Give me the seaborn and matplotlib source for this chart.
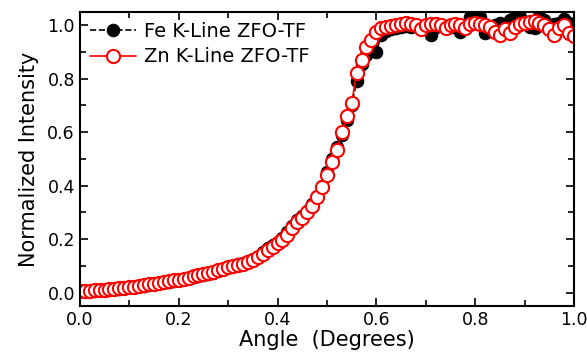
import numpy as np
import pandas as pd
import seaborn as sns
import matplotlib.pyplot as plt
from matplotlib.ticker import MultipleLocator

# angle grid (degrees)
angle = [round(i * 0.01, 2) for i in range(101)]

# Zn K-line, normalized intensity
zn = [0.005, 0.006, 0.007, 0.008, 0.009, 0.010, 0.012, 0.013, 0.015, 0.017,
      0.020, 0.022, 0.025, 0.027, 0.030, 0.033, 0.036, 0.039, 0.042, 0.045,
      0.048, 0.052, 0.056, 0.060, 0.064, 0.068, 0.073, 0.078, 0.083, 0.089,
      0.095, 0.099, 0.104, 0.108, 0.114, 0.122, 0.131, 0.144, 0.158, 0.171,
      0.185, 0.198, 0.216, 0.240, 0.265, 0.280, 0.300, 0.325, 0.356, 0.395,
      0.440, 0.490, 0.535, 0.600, 0.660, 0.710, 0.820, 0.870, 0.920, 0.945,
      0.975, 0.990, 0.995, 0.998, 1.000, 1.005, 1.008, 1.004, 1.000, 0.985,
      1.002, 1.006, 1.003, 1.000, 0.990, 1.000, 1.004, 1.000, 0.990, 1.004,
      1.010, 1.005, 1.000, 0.995, 0.975, 0.963, 0.985, 0.970, 0.995, 1.003,
      1.008, 1.012, 1.015, 1.010, 1.000, 0.985, 0.963, 0.990, 1.000, 0.970,
      0.960]

# Fe K-line, normalized intensity
fe = [0.004, 0.005, 0.006, 0.007, 0.008, 0.010, 0.011, 0.013, 0.014, 0.016,
      0.019, 0.021, 0.024, 0.026, 0.029, 0.032, 0.035, 0.038, 0.041, 0.044,
      0.047, 0.051, 0.055, 0.059, 0.063, 0.067, 0.071, 0.072, 0.082, 0.088,
      0.096, 0.101, 0.105, 0.110, 0.117, 0.124, 0.134, 0.150, 0.168, 0.178,
      0.190, 0.205, 0.228, 0.250, 0.270, 0.288, 0.305, 0.330, 0.360, 0.400,
      0.450, 0.500, 0.545, 0.590, 0.645, 0.700, 0.790, 0.855, 0.890, 0.920,
      0.900, 0.965, 0.978, 0.985, 0.990, 0.995, 0.998, 0.995, 0.998, 0.995,
      0.995, 0.963, 0.995, 1.000, 0.990, 0.995, 1.000, 0.975, 1.000, 1.030,
      1.035, 1.030, 0.970, 0.995, 1.000, 1.010, 1.000, 1.020, 1.035, 1.030,
      1.010, 0.995, 0.990, 1.035, 1.020, 1.000, 1.005, 1.010, 1.025, 1.010,
      0.990]

df = pd.DataFrame({"angle": angle, "Fe": fe, "Zn": zn})

sns.set_style("ticks", {"axes.edgecolor": "black", "xtick.color": "black",
                        "ytick.color": "black", "text.color": "black",
                        "axes.labelcolor": "black"})
plt.rcParams["font.family"] = ["DejaVu Sans"]

fig = plt.figure(figsize=(5.87, 3.59), dpi=100)
ax = fig.add_axes([0.136, 0.148, 0.842, 0.819])

sns.lineplot(data=df, x="angle", y="Fe", ax=ax, color="black", linestyle="--",
             linewidth=1.2, marker="o", markersize=9, markerfacecolor="black",
             markeredgecolor="black", label="Fe K-Line ZFO-TF")
sns.lineplot(data=df, x="angle", y="Zn", ax=ax, color="red", linestyle="-",
             linewidth=1.2, marker="o", markersize=9.5, markerfacecolor="white",
             markeredgecolor="red", markeredgewidth=1.5, label="Zn K-Line ZFO-TF")

ax.set_xlim(0, 1.0)
ax.set_ylim(-0.05, 1.05)
ax.xaxis.set_major_locator(MultipleLocator(0.2))
ax.xaxis.set_minor_locator(MultipleLocator(0.1))
ax.yaxis.set_major_locator(MultipleLocator(0.2))
ax.yaxis.set_minor_locator(MultipleLocator(0.1))
ax.xaxis.set_major_formatter(plt.FormatStrFormatter("%.1f"))
ax.yaxis.set_major_formatter(plt.FormatStrFormatter("%.1f"))
ax.tick_params(which="both", direction="in", top=True, right=True, width=1.2,
               colors="black")
ax.tick_params(which="major", length=6, labelsize=12.5)
ax.tick_params(which="minor", length=4)
for s in ax.spines.values():
    s.set_linewidth(1.5)
    s.set_color("black")

ax.set_xlabel("Angle  (Degrees)", fontsize=15, labelpad=1)
ax.set_ylabel("Normalized Intensity", fontsize=15, labelpad=6)

ax.legend(loc="upper left", frameon=False, fontsize=14, handlelength=2.4,
          handletextpad=0.4, borderaxespad=0.1, labelspacing=0.35)

fig.savefig("out.png", dpi=100)
